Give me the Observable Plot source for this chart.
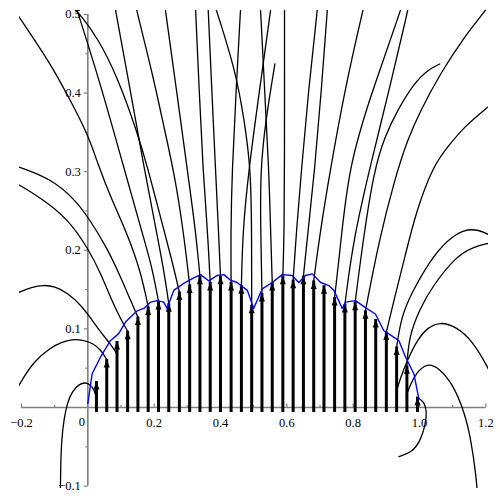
<!DOCTYPE html>
<html>
<head>
<meta charset="utf-8">
<script src="https://cdn.jsdelivr.net/npm/d3@7"></script>
<script src="https://cdn.jsdelivr.net/npm/@observablehq/plot@0.6"></script>
<style>
  html, body { margin: 0; padding: 0; background: #fff; }
  #chart svg { display: block; }
</style>
</head>
<body>
<div id="chart"></div>
<script>
// ---- data ----
const arrowX = [0.026,0.057,0.088,0.120,0.151,0.182,0.213,0.244,0.276,0.307,0.338,0.369,0.400,0.432,0.463,0.494,
                0.525,0.556,0.588,0.619,0.650,0.681,0.712,0.744,0.775,0.806,0.837,0.868,0.900,0.931,0.962,0.994];
const arrowTip = [0.033,0.061,0.084,0.097,0.115,0.128,0.135,0.132,0.147,0.156,0.167,0.159,0.167,0.159,0.155,0.130,
                  0.145,0.159,0.167,0.162,0.167,0.161,0.155,0.140,0.131,0.134,0.123,0.112,0.096,0.077,0.053,0.013];

const envelopeX = [0.000,0.013,0.038,0.068,0.093,0.114,0.149,0.169,0.189,0.209,0.229,0.239,0.259,0.289,0.315,0.340,
                   0.365,0.390,0.410,0.430,0.450,0.481,0.500,0.526,0.556,0.586,0.616,0.636,0.656,0.677,0.702,0.727,
                   0.742,0.767,0.777,0.807,0.837,0.867,0.892,0.913,0.938,0.958,0.983,0.998];
const envelopeY = [0.005,0.043,0.064,0.085,0.094,0.109,0.123,0.126,0.134,0.136,0.134,0.126,0.149,0.158,0.164,0.169,
                   0.161,0.168,0.169,0.162,0.159,0.149,0.126,0.151,0.159,0.169,0.168,0.159,0.168,0.170,0.159,0.155,
                   0.149,0.126,0.134,0.136,0.127,0.119,0.098,0.092,0.085,0.064,0.043,0.011];

const fieldLines = [
  [[0.026,0.012],[0.020,0.022],[0.008,0.029],[-0.008,0.032],[-0.025,0.030],[-0.047,0.021],[-0.062,0.006],[-0.072,-0.015],[-0.079,-0.040],[-0.082,-0.075],[-0.083,-0.115]],
  [[0.057,0.061],[0.040,0.073],[0.015,0.082],[-0.015,0.086],[-0.047,0.087],[-0.080,0.083],[-0.112,0.076],[-0.163,0.059],[-0.206,0.030],[-0.22,0.018]],
  [[0.088,0.068],[0.070,0.080],[0.038,0.096],[0.010,0.113],[-0.020,0.130],[-0.062,0.146],[-0.100,0.154],[-0.133,0.156],[-0.170,0.153],[-0.206,0.147],[-0.22,0.144]],
  [[0.120,0.097],[0.100,0.112],[0.075,0.133],[0.040,0.170],[0.000,0.203],[-0.062,0.241],[-0.143,0.267],[-0.206,0.283],[-0.22,0.286]],
  [[0.151,0.115],[0.130,0.135],[0.100,0.165],[0.058,0.203],[0.003,0.241],[-0.042,0.266],[-0.112,0.291],[-0.206,0.306],[-0.22,0.307]],
  [[0.182,0.128],[0.160,0.172],[0.120,0.220],[0.068,0.268],[0.030,0.310],[0.000,0.348],[-0.062,0.398],[-0.112,0.437],[-0.206,0.496],[-0.225,0.508]],
  [[0.213,0.135],[0.193,0.180],[0.160,0.228],[0.108,0.306],[0.038,0.412],[-0.032,0.505],[-0.04,0.515]],
  [[0.244,0.132],[0.232,0.168],[0.205,0.228],[0.169,0.306],[0.128,0.404],[0.0835,0.505],[0.08,0.515]],
  [[0.276,0.147],[0.252,0.190],[0.219,0.242],[0.180,0.306],[0.149,0.350],[0.090,0.420],[0.030,0.470],[-0.022,0.499],[-0.04,0.507]],
  [[0.307,0.156],[0.288,0.225],[0.262,0.295],[0.233,0.350],[0.195,0.425],[0.147,0.505],[0.143,0.515]],
  [[0.338,0.167],[0.325,0.225],[0.300,0.302],[0.268,0.402],[0.234,0.505],[0.231,0.515]],
  [[0.369,0.159],[0.361,0.225],[0.347,0.302],[0.336,0.402],[0.325,0.505],[0.324,0.515]],
  [[0.400,0.167],[0.394,0.225],[0.385,0.302],[0.374,0.402],[0.363,0.505],[0.362,0.515]],
  [[0.432,0.159],[0.431,0.225],[0.435,0.302],[0.447,0.402],[0.460,0.505],[0.462,0.515]],
  [[0.463,0.155],[0.467,0.225],[0.485,0.302],[0.517,0.402],[0.551,0.505],[0.554,0.515]],
  [[0.494,0.130],[0.494,0.212],[0.492,0.302],[0.472,0.365],[0.445,0.429],[0.388,0.505],[0.38,0.515]],
  [[0.525,0.145],[0.521,0.225],[0.520,0.302],[0.536,0.365],[0.564,0.437]],
  [[0.556,0.159],[0.551,0.225],[0.546,0.302],[0.533,0.403],[0.521,0.505],[0.519,0.518]],
  [[0.588,0.167],[0.592,0.225],[0.593,0.302],[0.593,0.505],[0.593,0.518]],
  [[0.619,0.162],[0.629,0.225],[0.644,0.302],[0.665,0.403],[0.692,0.505],[0.694,0.518]],
  [[0.650,0.167],[0.664,0.225],[0.684,0.302],[0.704,0.403],[0.722,0.505],[0.724,0.518]],
  [[0.681,0.161],[0.701,0.225],[0.731,0.302],[0.774,0.403],[0.829,0.505],[0.837,0.518]],
  [[0.744,0.140],[0.758,0.190],[0.786,0.308],[0.858,0.403],[0.943,0.505],[0.952,0.518]],
  [[0.775,0.131],[0.800,0.213],[0.852,0.308],[0.912,0.410],[0.965,0.505],[0.970,0.518]],
  [[0.806,0.134],[0.830,0.213],[0.862,0.300],[0.895,0.345],[0.935,0.379],[0.983,0.412],[1.023,0.429],[1.061,0.437]],
  [[0.837,0.123],[0.878,0.213],[0.925,0.290],[0.963,0.340],[1.003,0.378],[1.063,0.425],[1.134,0.471],[1.199,0.505],[1.215,0.515]],
  [[0.900,0.096],[0.925,0.140],[0.955,0.190],[0.990,0.250],[1.042,0.308],[1.084,0.331],[1.134,0.357],[1.208,0.383],[1.23,0.39]],
  [[0.931,0.077],[0.945,0.115],[0.975,0.145],[1.033,0.188],[1.084,0.213],[1.134,0.227],[1.180,0.226],[1.209,0.220],[1.225,0.216]],
  [[0.962,0.053],[0.968,0.090],[1.000,0.125],[1.040,0.155],[1.110,0.192],[1.160,0.204],[1.209,0.209],[1.225,0.210]],
  [[0.930,0.019],[0.940,0.035],[0.965,0.062],[0.995,0.087],[1.025,0.102],[1.063,0.109],[1.110,0.103],[1.160,0.085],[1.209,0.049],[1.225,0.033]],
  [[0.960,0.015],[0.970,0.027],[0.990,0.044],[1.023,0.057],[1.060,0.050],[1.100,0.030],[1.135,-0.005],[1.155,-0.040],[1.170,-0.085],[1.176,-0.115]],
  [[0.991,0.013],[1.001,0.011],[1.015,0.006],[1.022,-0.005],[1.018,-0.022],[1.003,-0.042],[0.978,-0.057],[0.938,-0.0625]]
];

const xMajorTicks = [-0.2, 0.2, 0.4, 0.6, 0.8, 1.0, 1.2];
const xTickLabels = ["\u22120.2", "0.2", "0.4", "0.6", "0.8", "1.0", "1.2"];
const xMinorTicks = [-0.1, 0.1, 0.3, 0.5, 0.7, 0.9, 1.1];
const yMajorTicks = [-0.1, 0.1, 0.2, 0.3, 0.4, 0.5];
const yTickLabels = ["\u22120.1", "0.1", "0.2", "0.3", "0.4", "0.5"];
const yMinorTicks = [-0.05, 0.05, 0.15, 0.25, 0.35, 0.45];
const originLabel = ["0"];

// ---- build tables ----
const arrows = arrowX.map((x, i) => ({x, tip: arrowTip[i]}));
const envelope = envelopeX.map((x, i) => ({x, y: envelopeY[i]}));
const linePts = fieldLines.flatMap((pts, k) => pts.map(([x, y]) => ({x, y, k})));

const headSymbol = {draw(ctx) { ctx.moveTo(0, 0); ctx.lineTo(-3, 8); ctx.lineTo(3, 8); ctx.closePath(); }};
const vTickBig = {draw(ctx) { ctx.moveTo(0, 0); ctx.lineTo(0, -4); }};
const vTickSmall = {draw(ctx) { ctx.moveTo(0, 0); ctx.lineTo(0, -2.5); }};
const hTickBig = {draw(ctx) { ctx.moveTo(0, 0); ctx.lineTo(-4, 0); }};
const hTickSmall = {draw(ctx) { ctx.moveTo(0, 0); ctx.lineTo(-2.5, 0); }};

const axisColor = "#808080";
const font = "Liberation Serif, Times New Roman, serif";

const chart = Plot.plot({
  width: 500,
  height: 500,
  marginLeft: 19,
  marginRight: 12,
  marginTop: 10,
  marginBottom: 12,
  x: {domain: [-0.206, 1.208], axis: null},
  y: {domain: [-0.103, 0.505], axis: null},
  style: {background: "white"},
  marks: [
    Plot.ruleY([0], {x1: -0.2, x2: 1.2, stroke: axisColor, strokeWidth: 1.6}),
    Plot.ruleX([0], {y1: -0.1, y2: 0.5, stroke: axisColor, strokeWidth: 1.6}),
    Plot.dot(xMajorTicks, {x: d => d, y: 0, symbol: vTickBig, stroke: axisColor, strokeWidth: 1.2, fill: "none"}),
    Plot.dot(xMinorTicks, {x: d => d, y: 0, symbol: vTickSmall, stroke: axisColor, strokeWidth: 1.2, fill: "none"}),
    Plot.dot(yMajorTicks, {x: 0, y: d => d, symbol: hTickBig, stroke: axisColor, strokeWidth: 1.2, fill: "none"}),
    Plot.dot(yMinorTicks, {x: 0, y: d => d, symbol: hTickSmall, stroke: axisColor, strokeWidth: 1.2, fill: "none"}),
    Plot.line(linePts, {x: "x", y: "y", z: "k", stroke: "black", strokeWidth: 1.3, curve: "basis", clip: true}),
    Plot.ruleX(arrows, {x: "x", y1: 0, y2: "tip", stroke: "black", strokeWidth: 3, insetTop: 5}),
    Plot.dot(arrows, {x: "x", y: "tip", symbol: headSymbol, fill: "black", stroke: "none"}),
    Plot.line(envelope, {x: "x", y: "y", stroke: "#0000ff", strokeWidth: 1.4}),
    Plot.text(xMajorTicks, {x: d => d, y: 0, text: (d, i) => xTickLabels[i], dy: 15, fontSize: 12.5, fontFamily: font, fill: "black"}),
    Plot.text(yMajorTicks, {x: 0, y: d => d, text: (d, i) => yTickLabels[i], dx: -7, textAnchor: "end", fontSize: 12.5, fontFamily: font, fill: "black"}),
    Plot.text(originLabel, {x: 0, y: 0, text: d => d, dx: -6, dy: 14, fontSize: 12.5, fontFamily: font, fill: "black"})
  ]
});
document.getElementById("chart").appendChild(chart);
</script>
</body>
</html>
